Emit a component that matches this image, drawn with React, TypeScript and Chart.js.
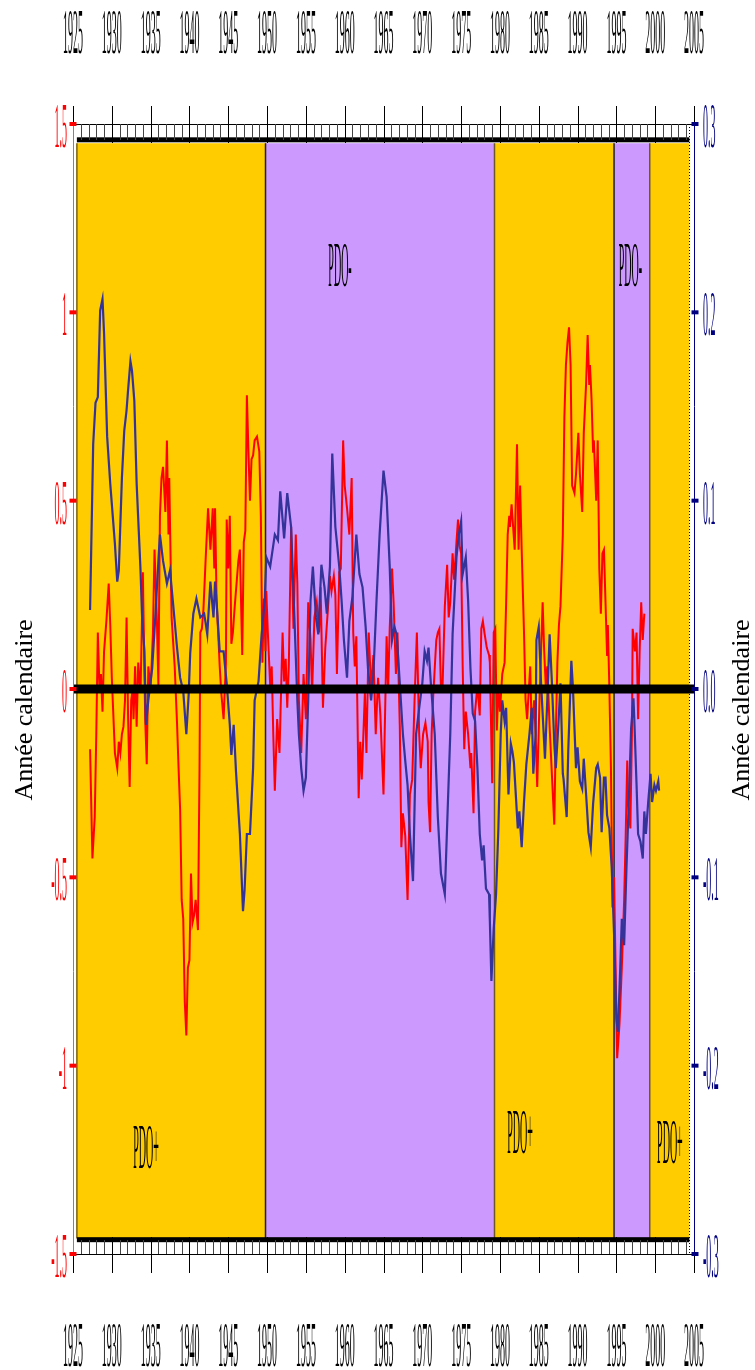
import React, { useEffect, useRef } from "react";
import { Chart, registerables } from "chart.js";

Chart.register(...registerables);

// ---------- data ----------
const yearTicks = [1925, 1930, 1935, 1940, 1945, 1950, 1955, 1960, 1965, 1970, 1975, 1980, 1985, 1990, 1995, 2000, 2005];
const leftTicks = [1.5, 1, 0.5, 0, -0.5, -1, -1.5];
const leftTickLabels = ["1.5", "1", "0.5", "0", "-0.5", "-1", "-1.5"];
const rightTicks = [0.3, 0.2, 0.1, 0, -0.1, -0.2, -0.3];
const rightTickLabels = ["0.3", "0.2", "0.1", "0.0", "-0.1", "-0.2", "-0.3"];
const axisTitle = "Année calendaire";

const phaseStarts = [1925.5, 1949.8, 1979.3, 1994.7, 1999.3];
const phaseEnds = [1949.8, 1979.3, 1994.7, 1999.3, 2004.4];
const phaseSigns = ["+", "-", "+", "-", "+"];
const phaseLabels = ["PDO+", "PDO-", "PDO+", "PDO-", "PDO+"];
const phaseLabelYears = [1934.4, 1959.4, 1982.6, 1996.8, 2001.9];
const phaseLabelValues = [-1.215, 1.125, -1.176, 1.125, -1.202];

const redYears = [
  1927.2, 1927.5, 1927.8, 1928.0, 1928.2, 1928.4, 1928.6, 1928.8, 1929.0, 1929.3, 1929.6, 1929.8,
  1930.0, 1930.4, 1930.7, 1930.9, 1931.1, 1931.3, 1931.5, 1931.7, 1931.9,
  1932.1, 1932.3, 1932.5, 1932.7, 1932.8, 1933.0, 1933.2, 1933.4, 1933.7,
  1934.0, 1934.3, 1934.5, 1934.7, 1935.0, 1935.3, 1935.5, 1935.8,
  1936.0, 1936.2, 1936.4, 1936.6, 1936.9, 1937.1, 1937.3, 1937.4, 1937.7,
  1938.1, 1938.4, 1938.6, 1938.8, 1939.0, 1939.2, 1939.4, 1939.6, 1939.8,
  1940.0, 1940.2, 1940.4, 1940.6, 1940.8, 1941.1, 1941.3, 1941.4, 1941.6, 1941.8,
  1942.1, 1942.4, 1942.7, 1943.0, 1943.2, 1943.3, 1943.5, 1943.7, 1943.9,
  1944.1, 1944.4, 1944.7, 1944.8, 1945.0, 1945.2, 1945.4, 1945.6, 1945.8,
  1946.3, 1946.5, 1946.8, 1947.0, 1947.2, 1947.4, 1947.6, 1947.8,
  1948.0, 1948.2, 1948.4, 1948.7, 1949.0, 1949.2, 1949.4, 1949.6, 1949.8, 1949.9,
  1950.1, 1950.4, 1950.6, 1950.8, 1951.0, 1951.3, 1951.6,
  1952.0, 1952.2, 1952.4, 1952.6, 1952.8, 1953.1, 1953.4, 1953.7, 1953.9,
  1954.1, 1954.4, 1954.7, 1955.0, 1955.3, 1955.6, 1955.8,
  1956.1, 1956.4, 1956.7, 1956.9, 1957.2, 1957.5, 1957.8,
  1958.1, 1958.3, 1958.6, 1958.8, 1959.0, 1959.3, 1959.5, 1959.8,
  1960.0, 1960.3, 1960.6, 1960.9, 1961.1, 1961.3, 1961.5, 1961.8,
  1962.0, 1962.2, 1962.6, 1962.8, 1963.1, 1963.4, 1963.7,
  1964.0, 1964.3, 1964.6, 1965.0, 1965.4, 1965.6, 1965.8,
  1966.1, 1966.3, 1966.6, 1966.8, 1967.1, 1967.3, 1967.5, 1967.8,
  1968.1, 1968.4, 1968.7, 1969.0, 1969.3, 1969.6, 1969.8,
  1970.1, 1970.4, 1970.7, 1970.8, 1971.0, 1971.2, 1971.4, 1971.8,
  1972.0, 1972.2, 1972.4, 1972.6, 1972.9, 1973.2, 1973.4, 1973.6, 1973.9,
  1974.1, 1974.4, 1974.6, 1974.8, 1975.0, 1975.2, 1975.4, 1975.6, 1975.9,
  1976.2, 1976.3, 1976.6, 1976.8, 1977.1, 1977.4, 1977.6, 1977.8,
  1978.0, 1978.3, 1978.6, 1978.7, 1979.0, 1979.2, 1979.4, 1979.6, 1979.8,
  1980.0, 1980.3, 1980.6, 1980.8, 1981.0, 1981.2, 1981.3, 1981.5, 1981.7, 1981.9,
  1982.2, 1982.4, 1982.6, 1982.8, 1983.1, 1983.3, 1983.5, 1983.9,
  1984.1, 1984.4, 1984.6, 1984.8, 1985.1, 1985.3, 1985.5, 1985.7, 1985.9,
  1986.1, 1986.4, 1987.0, 1987.2, 1987.4, 1987.6, 1987.8,
  1988.1, 1988.3, 1988.5, 1988.7, 1988.9, 1989.1, 1989.3, 1989.6, 1989.8,
  1990.1, 1990.3, 1990.6, 1990.8, 1991.1, 1991.3, 1991.5, 1991.6, 1991.8,
  1992.0, 1992.1, 1992.4, 1992.6, 1992.8, 1993.0, 1993.2, 1993.4, 1993.6, 1993.8, 1993.9,
  1994.1, 1994.3, 1994.5, 1994.7, 1994.9, 1995.1, 1995.4, 1995.7,
  1996.0, 1996.2, 1996.4, 1996.5, 1996.8, 1997.0, 1997.1, 1997.4, 1997.6, 1997.8, 1998.0, 1998.2, 1998.4, 1998.6,
];
const redValues = [
  -0.16, -0.45, -0.34, -0.12, 0.15, 0.01, 0.04, -0.06, 0.10, 0.18, 0.28, 0.17,
  0.03, -0.17, -0.21, -0.14, -0.17, -0.12, -0.10, -0.03, 0.19,
  -0.08, -0.26, -0.03, 0.00, -0.08, 0.06, -0.10, 0.07, -0.01,
  0.31, -0.08, -0.20, 0.06, 0.00, 0.15, 0.37, 0.19,
  0.01, 0.46, 0.56, 0.59, 0.47, 0.66, 0.41, 0.56, 0.19,
  0.06, -0.09, -0.21, -0.32, -0.56, -0.61, -0.83, -0.92, -0.74,
  -0.72, -0.49, -0.62, -0.60, -0.56, -0.64, -0.21, 0.15, 0.16, 0.21,
  0.35, 0.48, 0.37, 0.48, 0.32, 0.48, 0.23, 0.15, 0.06,
  -0.01, -0.08, 0.07, 0.45, 0.32, 0.46, 0.12, 0.15, 0.21,
  0.34, 0.37, 0.09, 0.39, 0.42, 0.78, 0.63, 0.50,
  0.61, 0.62, 0.66, 0.67, 0.63, 0.46, 0.07, 0.24, 0.10, 0.26,
  0.15, 0.01, 0.06, -0.12, -0.27, -0.08, -0.17,
  0.15, 0.02, 0.08, -0.05, 0.06, 0.43, 0.16, 0.41, 0.28,
  -0.03, -0.17, 0.04, -0.08, 0.23, 0.13, -0.01,
  0.19, 0.23, 0.15, 0.27, -0.05, 0.11, 0.20,
  0.30, 0.26, 0.30, 0.25, 0.04, 0.31, 0.32, 0.66,
  0.54, 0.48, 0.41, 0.56, 0.15, 0.06, 0.14, -0.29,
  -0.14, -0.24, -0.01, -0.17, 0.15, 0.00, 0.09,
  -0.12, 0.03, -0.07, -0.28, 0.14, 0.00, 0.16,
  0.32, 0.23, 0.04, 0.15, -0.10, -0.42, -0.33, -0.39,
  -0.56, -0.28, -0.24, -0.03, 0.15, -0.12, -0.21,
  -0.12, -0.09, -0.14, -0.30, -0.38, -0.12, -0.02, 0.13,
  0.15, 0.16, 0.00, 0.00, 0.22, 0.33, 0.19, 0.23, 0.36,
  0.29, 0.39, 0.45, 0.38, 0.36, 0.06, -0.16, -0.06, -0.12,
  -0.21, -0.17, -0.33, -0.06, 0.01, -0.07, 0.16, 0.18,
  0.15, 0.11, 0.09, 0.07, -0.25, 0.15, 0.16, -0.11, 0.01,
  -0.06, 0.04, 0.07, 0.23, 0.41, 0.46, 0.43, 0.49, 0.43, 0.37,
  0.65, 0.37, 0.54, 0.37, 0.15, -0.03, -0.08, 0.06,
  -0.12, -0.03, -0.12, -0.26, -0.03, 0.10, 0.23, 0.10, 0.01,
  0.06, -0.10, -0.36, -0.12, 0.07, 0.17, 0.22,
  0.41, 0.72, 0.86, 0.92, 0.96, 0.86, 0.54, 0.52, 0.57,
  0.68, 0.57, 0.47, 0.68, 0.81, 0.94, 0.81, 0.86, 0.77,
  0.63, 0.66, 0.50, 0.66, 0.32, 0.20, 0.36, 0.37, 0.23, 0.09, 0.17,
  0.00, -0.21, -0.58, -0.50, -0.74, -0.98, -0.89, -0.74,
  -0.56, -0.39, -0.19, -0.30, -0.37, -0.12, 0.16, 0.10, 0.15, -0.08, 0.10, 0.23, 0.13, 0.20,
];

const blueYears = [
  1927.2, 1927.6, 1927.9, 1928.2, 1928.5, 1928.8, 1929.0, 1929.4, 1929.8,
  1930.1, 1930.4, 1930.7, 1930.9, 1931.3, 1931.6, 1931.9,
  1932.1, 1932.4, 1932.6, 1932.9, 1933.2, 1933.7, 1933.9,
  1934.2, 1934.4, 1934.7, 1935.2, 1935.6,
  1936.0, 1936.2, 1936.6, 1937.1, 1937.5, 1937.9,
  1938.4, 1938.8, 1939.2, 1939.6, 1939.9,
  1940.1, 1940.5, 1940.9, 1941.4, 1941.9,
  1942.3, 1942.7, 1943.1, 1943.3, 1943.5, 1943.9,
  1944.4, 1944.8, 1945.2, 1945.4, 1945.7,
  1946.0, 1946.5, 1946.9, 1947.1, 1947.4, 1947.8,
  1948.2, 1948.4, 1948.9, 1949.3, 1949.7, 1949.9,
  1950.4, 1951.0, 1951.4, 1951.7,
  1952.2, 1952.6, 1953.1, 1953.6, 1953.9,
  1954.1, 1954.4, 1954.7, 1955.0, 1955.3, 1955.6, 1955.9,
  1956.3, 1956.6, 1957.0, 1957.4, 1957.7,
  1958.1, 1958.4, 1958.8, 1959.3, 1959.6, 1959.9,
  1960.3, 1960.6, 1961.0, 1961.5, 1961.9,
  1962.3, 1962.7, 1963.0, 1963.4, 1963.7,
  1964.1, 1964.5, 1965.0, 1965.4, 1965.8,
  1966.1, 1966.4, 1966.7, 1967.1, 1967.5, 1967.8,
  1968.1, 1968.4, 1968.8, 1969.2, 1969.6,
  1970.0, 1970.3, 1970.6, 1970.8, 1971.1, 1971.6,
  1972.0, 1972.4, 1972.9, 1973.3, 1973.6, 1973.9,
  1974.4, 1974.7, 1975.0, 1975.2, 1975.6, 1975.9,
  1976.2, 1976.5, 1976.8, 1977.1, 1977.4, 1977.7, 1977.9,
  1978.2, 1978.6, 1978.7, 1978.9, 1979.2, 1979.5, 1979.8,
  1980.1, 1980.3, 1980.6, 1980.8, 1981.1, 1981.4, 1981.6, 1981.8,
  1982.3, 1982.5, 1982.8, 1983.1, 1983.4, 1983.8,
  1984.1, 1984.3, 1984.6, 1984.7, 1985.0, 1985.3, 1985.6, 1985.8,
  1986.1, 1986.4, 1986.7, 1987.0, 1987.2, 1987.5, 1987.8,
  1988.1, 1988.2, 1988.6, 1988.8, 1989.2, 1989.4, 1989.8,
  1990.0, 1990.3, 1990.6, 1990.8, 1991.1, 1991.4, 1991.7,
  1992.0, 1992.4, 1992.6, 1992.9, 1993.1, 1993.4, 1993.6, 1993.8,
  1994.1, 1994.4, 1994.7, 1995.0, 1995.2, 1995.5, 1995.7,
  1996.0, 1996.3, 1996.6, 1996.9, 1997.2, 1997.3, 1997.6, 1997.8,
  1998.1, 1998.4, 1998.6, 1998.8, 1999.1, 1999.4, 1999.6, 1999.9, 2000.1, 2000.4, 2000.5,
];
const blueValues = [
  0.042, 0.130, 0.152, 0.155, 0.201, 0.207, 0.189, 0.134, 0.109,
  0.093, 0.077, 0.057, 0.063, 0.112, 0.137, 0.148,
  0.159, 0.174, 0.169, 0.153, 0.109, 0.063, 0.038,
  0.020, -0.019, -0.006, 0.011, 0.038,
  0.068, 0.082, 0.068, 0.056, 0.063, 0.045,
  0.022, 0.006, -0.001, -0.024, -0.003,
  0.019, 0.040, 0.048, 0.038, 0.040,
  0.029, 0.057, 0.038, 0.057, 0.046, 0.020,
  0.020, 0.003, -0.019, -0.035, -0.019,
  -0.044, -0.077, -0.118, -0.107, -0.077, -0.077,
  -0.042, -0.006, 0.004, 0.029, 0.047, 0.070,
  0.065, 0.082, 0.079, 0.105,
  0.080, 0.104, 0.086, 0.029, -0.006,
  -0.024, -0.042, -0.054, -0.047, -0.006, 0.047, 0.065,
  0.038, 0.029, 0.066, 0.054, 0.040,
  0.065, 0.125, 0.086, 0.065, 0.047, 0.026,
  0.006, 0.036, 0.049, 0.082, 0.061,
  0.054, 0.033, 0.011, -0.006, 0.008,
  0.047, 0.082, 0.116, 0.102, 0.065,
  0.026, 0.033, 0.029, 0.003, -0.024, -0.038,
  -0.051, -0.077, -0.102, -0.024, -0.010,
  0.003, 0.020, 0.015, 0.022, 0.003, -0.024,
  -0.068, -0.098, -0.109, -0.060, -0.024, 0.029,
  0.070, 0.082, 0.089, 0.061, 0.070, 0.047,
  0.011, -0.013, -0.017, -0.042, -0.077, -0.091, -0.083,
  -0.106, -0.109, -0.123, -0.155, -0.127, -0.109, -0.074,
  -0.024, -0.006, -0.017, -0.010, -0.056, -0.029, -0.033, -0.039,
  -0.074, -0.065, -0.084, -0.060, -0.040, -0.024,
  -0.010, -0.045, -0.024, 0.026, 0.033, 0.003, -0.021, -0.037,
  -0.006, 0.029, 0.003, -0.029, -0.042, -0.021, 0.003,
  -0.045, -0.048, -0.068, -0.033, 0.015, 0.001, -0.042,
  -0.031, -0.049, -0.053, -0.037, -0.056, -0.076, -0.084,
  -0.061, -0.042, -0.040, -0.047, -0.076, -0.047, -0.047, -0.067,
  -0.074, -0.095, -0.130, -0.175, -0.182, -0.148, -0.122,
  -0.136, -0.095, -0.060, -0.021, -0.005, -0.015, -0.051, -0.077,
  -0.081, -0.090, -0.065, -0.077, -0.060, -0.045, -0.060, -0.051, -0.054, -0.049, -0.054,
];

// ---------- style ----------
const ORANGE = "#FFCC00";
const PURPLE = "#CC99FF";
const RED = "#FF0000";
const NAVY = "#000080";
const BLUE_LINE = "#333399";
const SERIF = '"Liberation Serif", "Times New Roman", serif';
const SX = 0.5;
const SY = 3.2;
const BASE = 20;
const BAND_TOP = 1.449;
const BAND_BOTTOM = -1.459;

function squished(ctx: CanvasRenderingContext2D, text: string, x: number, cy: number, align: CanvasTextAlign, color: string) {
  ctx.save();
  ctx.translate(x, cy);
  ctx.scale(SX, SY);
  ctx.font = `${BASE}px ${SERIF}`;
  ctx.fillStyle = color;
  ctx.textAlign = align;
  ctx.textBaseline = "alphabetic";
  ctx.fillText(text, 0, BASE * 0.33);
  ctx.restore();
}

function line(ctx: CanvasRenderingContext2D, x1: number, y1: number, x2: number, y2: number) {
  ctx.beginPath();
  ctx.moveTo(x1, y1);
  ctx.lineTo(x2, y2);
  ctx.stroke();
}

const decor = {
  id: "decor",
  beforeDatasetsDraw(chart: any) {
    const ctx: CanvasRenderingContext2D = chart.ctx;
    const xs = chart.scales.x;
    const ys = chart.scales.y;
    const yt = ys.getPixelForValue(BAND_TOP);
    const yb = ys.getPixelForValue(BAND_BOTTOM);
    ctx.save();
    phaseStarts.forEach((s, i) => {
      const x0 = xs.getPixelForValue(s);
      const x1 = xs.getPixelForValue(phaseEnds[i]);
      ctx.fillStyle = phaseSigns[i] === "+" ? ORANGE : PURPLE;
      ctx.fillRect(x0, yt, x1 - x0, yb - yt);
    });
    // boundaries
    ctx.lineWidth = 1.5;
    phaseStarts.forEach((s, i) => {
      const px = xs.getPixelForValue(s);
      ctx.strokeStyle = i === 0 ? "#7a6210" : phaseSigns[i] === "-" ? "#222222" : "#6e5a20";
      line(ctx, px, yt, px, yb);
    });
    const ex = xs.getPixelForValue(phaseEnds[phaseEnds.length - 1]);
    ctx.lineWidth = 1;
    ctx.strokeStyle = "#000";
    ctx.setLineDash([1, 2]);
    line(ctx, Math.round(ex) + 0.5, ys.getPixelForValue(1.5), Math.round(ex) + 0.5, ys.getPixelForValue(-1.5));
    ctx.setLineDash([]);
    ctx.restore();
  },
  afterDatasetsDraw(chart: any) {
    const ctx: CanvasRenderingContext2D = chart.ctx;
    const xs = chart.scales.x;
    const ys = chart.scales.y;
    const yr = chart.scales.y1;
    const L = xs.getPixelForValue(1925);
    const R = xs.getPixelForValue(2005);
    const T = ys.getPixelForValue(1.5);
    const B = ys.getPixelForValue(-1.5);
    ctx.save();

    // thick frame lines on band edges
    const bx0 = xs.getPixelForValue(phaseStarts[0]);
    const bx1 = xs.getPixelForValue(phaseEnds[phaseEnds.length - 1]);
    ctx.fillStyle = "#000";
    ctx.fillRect(bx0, ys.getPixelForValue(1.458) - 2.5, bx1 - bx0, 5);
    ctx.fillRect(bx0, ys.getPixelForValue(-1.462) - 2.5, bx1 - bx0, 5);

    // zero line
    const z = ys.getPixelForValue(0);
    ctx.fillRect(L, z - 4.5, R - L, 9);

    // year combs
    ctx.lineWidth = 1;
    ctx.strokeStyle = "#000";
    line(ctx, L, Math.round(T) + 0.5, R, Math.round(T) + 0.5);
    line(ctx, L, Math.round(B) + 0.5, R, Math.round(B) + 0.5);
    for (let yv = 1925; yv <= 2005; yv++) {
      const px = Math.round(xs.getPixelForValue(yv)) + 0.5;
      if (yv % 5 === 0) {
        ctx.strokeStyle = "#000";
        line(ctx, px, T - 18, px, T + 19);
        line(ctx, px, B - 17, px, B + 19);
      } else {
        ctx.strokeStyle = "#444";
        line(ctx, px, T, px, T + 16);
        line(ctx, px, B - 14, px, B);
      }
    }

    // year labels
    yearTicks.forEach((yv) => {
      const px = xs.getPixelForValue(yv);
      squished(ctx, String(yv), px, 31.5, "center", "#000");
      squished(ctx, String(yv), px, 1345, "center", "#000");
    });

    // left axis
    ctx.strokeStyle = "#ff5050";
    ctx.lineWidth = 1;
    line(ctx, Math.round(L) + 0.5, T, Math.round(L) + 0.5, B);
    leftTicks.forEach((v, i) => {
      const py = ys.getPixelForValue(v);
      ctx.fillStyle = RED;
      ctx.fillRect(L - 3.5, py - 2, 7, 4);
      squished(ctx, leftTickLabels[i], L - 6, py + 2, "right", RED);
    });

    // right axis
    ctx.strokeStyle = NAVY;
    line(ctx, Math.round(R) + 0.5, T, Math.round(R) + 0.5, B);
    rightTicks.forEach((v, i) => {
      const py = yr.getPixelForValue(v);
      ctx.fillStyle = NAVY;
      ctx.fillRect(R - 2.5, py - 2, 7, 4);
      squished(ctx, rightTickLabels[i], R + 9, py + 2, "left", NAVY);
    });

    // phase labels
    phaseLabels.forEach((t, i) => {
      squished(ctx, t, xs.getPixelForValue(phaseLabelYears[i]), ys.getPixelForValue(phaseLabelValues[i]), "center", "#000");
    });

    // axis titles
    ctx.fillStyle = "#000";
    ctx.font = `26px ${SERIF}`;
    ctx.textAlign = "center";
    ctx.textBaseline = "middle";
    [25, 742].forEach((cx) => {
      ctx.save();
      ctx.translate(cx, 710);
      ctx.rotate(-Math.PI / 2);
      ctx.fillText(axisTitle, 0, 0);
      ctx.restore();
    });

    ctx.restore();
  },
};

export default function App() {
  const ref = useRef<HTMLCanvasElement | null>(null);
  useEffect(() => {
    if (!ref.current) return;
    const chart = new Chart(ref.current, {
      type: "line",
      data: {
        datasets: [
          {
            label: "blue",
            data: blueYears.map((x, i) => ({ x, y: blueValues[i] })),
            yAxisID: "y1",
            borderColor: BLUE_LINE,
            borderWidth: 2.2,
            pointRadius: 0,
            tension: 0,
            order: 0,
          },
          {
            label: "red",
            data: redYears.map((x, i) => ({ x, y: redValues[i] })),
            yAxisID: "y",
            borderColor: RED,
            borderWidth: 2,
            pointRadius: 0,
            tension: 0,
            order: 1,
          },
        ],
      },
      options: {
        animation: false,
        responsive: false,
        maintainAspectRatio: false,
        layout: { padding: { left: 73, right: 61, top: 124, bottom: 116 } },
        plugins: { legend: { display: false }, tooltip: { enabled: false } },
        scales: {
          x: { type: "linear", min: 1925, max: 2005, display: false },
          y: { type: "linear", min: -1.5, max: 1.5, display: false },
          y1: { type: "linear", min: -0.3, max: 0.3, display: false, position: "right" },
        },
      },
      plugins: [decor],
    } as any);
    return () => chart.destroy();
  }, []);
  return (
    <div style={{ position: "absolute", left: 0, top: 0, width: 755, height: 1370, background: "#fff" }}>
      <canvas ref={ref} width={755} height={1370} style={{ display: "block" }} />
    </div>
  );
}
